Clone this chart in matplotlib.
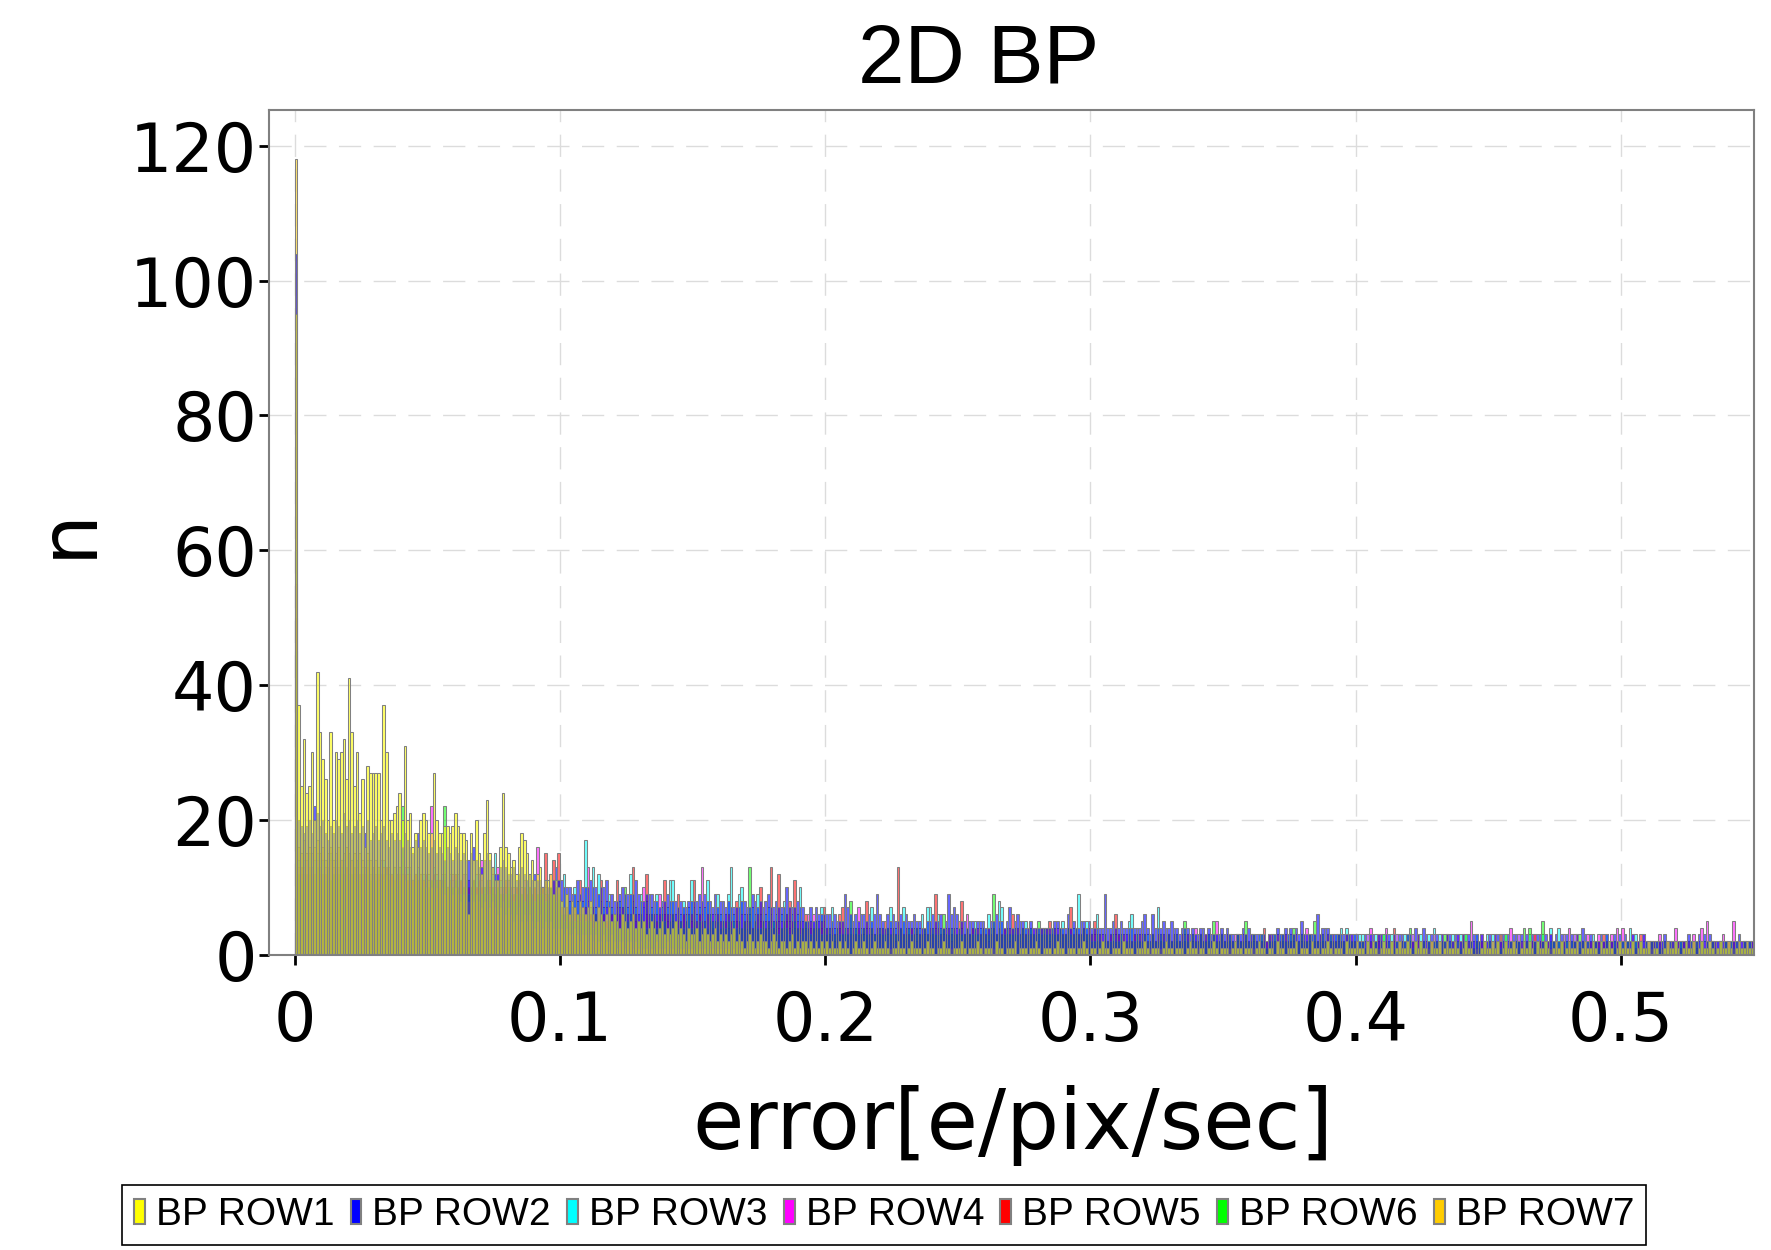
import matplotlib
matplotlib.use('Agg')
import matplotlib.pyplot as plt
from matplotlib.patches import Patch
import numpy as np

# histogram bin width [e/pix/sec]
bin_width = 0.001

series_names = ['BP ROW1', 'BP ROW2', 'BP ROW3', 'BP ROW4', 'BP ROW5', 'BP ROW6', 'BP ROW7']

# counts per bin, bins start at 0 and step by bin_width
row1 = [
    95, 37, 25, 32, 24, 25, 30, 20, 42, 33, 29, 26, 20, 33, 20, 30, 29, 30, 32, 26, 41, 33, 25, 30, 21,
    26, 16, 28, 27, 27, 27, 27, 20, 37, 30, 20, 20, 21, 22, 24, 20, 31, 20, 21, 16, 18, 16, 20, 21, 20,
    18, 18, 27, 20, 18, 18, 19, 19, 18, 19, 21, 19, 18, 18, 17, 6, 18, 14, 20, 15, 12, 18, 23, 15, 13,
    11, 11, 16, 24, 16, 15, 13, 14, 12, 16, 18, 17, 15, 12, 14, 11, 12, 13, 10, 11, 11, 12, 9, 11, 10,
    8, 7, 9, 6, 8, 7, 6, 8, 7, 6, 7, 8, 6, 5, 7, 6, 5, 6, 7, 5, 6, 5, 4, 6, 5,
    4, 5, 6, 4, 5, 4, 5, 3, 4, 5, 4, 3, 4, 5, 3, 4, 3, 4, 5, 3, 4, 3, 2, 4, 3,
    3, 4, 2, 3, 4, 3, 2, 3, 4, 2, 3, 2, 3, 2, 3, 4, 2, 3, 2, 1, 2, 3, 2, 1, 2,
    3, 2, 2, 1, 2, 3, 2, 1, 2, 2, 1, 2, 3, 1, 2, 1, 2, 2, 1, 2, 1, 2, 1, 2, 1,
    2, 1, 2, 1, 1, 2, 1, 2, 1, 0, 1, 2, 1, 1, 2, 1, 0, 1, 2, 1, 1, 1, 2, 1, 0,
    1, 1, 2, 1, 1, 0, 1, 2, 1, 1, 1, 0, 1, 2, 1, 1, 0, 1, 1, 2, 1, 1, 0, 1, 1,
    1, 2, 1, 0, 1, 1, 1, 2, 1, 0, 1, 1, 1, 0, 2, 1, 1, 0, 1, 1, 1, 2, 0, 1, 1,
    1, 0, 1, 1, 2, 1, 0, 1, 1, 1, 0, 1, 2, 1, 1, 0, 1, 1, 1, 0, 1, 1, 2, 1, 0,
    1, 1, 0, 1, 2, 1, 1, 0, 1, 1, 1, 0, 2, 1, 1, 1, 0, 1, 1, 1, 2, 1, 0, 1, 1,
    1, 0, 1, 2, 1, 1, 0, 1, 1, 1, 0, 1, 2, 1, 1, 0, 1, 1, 0, 1, 1, 2, 1, 0, 1,
    1, 1, 0, 1, 2, 1, 1, 0, 1, 1, 1, 0, 1, 2, 1, 1, 0, 1, 1, 0, 2, 1, 1, 0, 1,
    1, 1, 2, 0, 1, 1, 1, 0, 2, 1, 1, 0, 1, 1, 2, 1, 0, 1, 1, 1, 0, 2, 1, 1, 1,
    2, 1, 1, 0, 2, 1, 2, 1, 0, 1, 2, 1, 1, 2, 0, 1, 2, 1, 1, 2, 1, 0, 2, 1, 2,
    1, 1, 0, 2, 1, 1, 2, 0, 1, 2, 1, 1, 2, 1, 0, 1, 2, 1, 1, 0, 0, 0, 1, 2, 1,
    1, 2, 1, 2, 0, 1, 2, 1, 1, 2, 1, 0, 1, 2, 1, 2, 1, 0, 2, 1, 1, 2, 1, 0, 1,
    2, 1, 2, 0, 1, 2, 1, 1, 2, 0, 1, 2, 1, 1, 2, 1, 0, 2, 1, 1, 2, 1, 0, 1, 2,
    1, 2, 1, 1, 2, 0, 1, 2, 1, 1, 2, 0, 1, 1, 0, 0, 1, 2, 1, 1, 2, 1, 0, 1, 2,
    1, 1, 2, 0, 1, 2, 1, 1, 2, 1, 0, 1, 2, 1, 1, 2, 1, 0, 1, 2, 1, 1, 2, 1, 1,
]
row2 = [
    104, 20, 19, 18, 19, 20, 18, 22, 21, 19, 20, 18, 17, 19, 18, 20, 19, 18, 21, 19, 20, 18, 19, 20, 18,
    19, 18, 20, 17, 18, 19, 17, 18, 19, 17, 16, 18, 17, 18, 17, 16, 18, 17, 16, 15, 17, 18, 16, 17, 16,
    15, 16, 17, 15, 16, 15, 14, 16, 15, 14, 16, 15, 14, 15, 14, 14, 15, 16, 14, 13, 13, 14, 15, 14, 13,
    12, 12, 13, 14, 13, 12, 12, 13, 11, 12, 13, 12, 11, 12, 11, 12, 11, 11, 10, 11, 10, 10, 11, 13, 11,
    11, 10, 10, 10, 9, 9, 11, 9, 10, 10, 10, 11, 10, 10, 9, 10, 10, 11, 8, 9, 8, 8, 9, 10, 9,
    9, 9, 9, 11, 9, 8, 8, 9, 9, 9, 8, 8, 7, 8, 8, 9, 8, 8, 8, 7, 8, 7, 7, 8, 8,
    8, 8, 9, 8, 9, 8, 8, 7, 9, 7, 8, 8, 7, 8, 7, 7, 7, 7, 8, 8, 7, 7, 9, 8, 7,
    8, 7, 8, 9, 7, 7, 8, 7, 7, 7, 10, 7, 7, 7, 8, 7, 7, 5, 5, 7, 5, 7, 6, 6, 6,
    6, 6, 5, 6, 5, 5, 5, 9, 7, 6, 5, 6, 5, 6, 6, 5, 6, 5, 6, 9, 6, 5, 4, 6, 5,
    6, 5, 5, 6, 5, 6, 5, 5, 6, 5, 5, 4, 4, 5, 5, 6, 5, 5, 6, 4, 5, 9, 6, 7, 6,
    4, 5, 5, 4, 5, 5, 4, 5, 5, 5, 4, 4, 5, 5, 6, 5, 5, 4, 5, 7, 4, 5, 6, 5, 5,
    4, 4, 5, 4, 4, 4, 4, 4, 4, 4, 4, 5, 5, 4, 4, 4, 6, 4, 5, 4, 4, 5, 5, 4, 5,
    4, 4, 4, 4, 4, 9, 4, 4, 5, 4, 4, 5, 4, 4, 4, 4, 4, 4, 4, 5, 6, 4, 3, 6, 4,
    4, 4, 5, 4, 4, 5, 4, 4, 3, 4, 4, 4, 3, 4, 3, 3, 4, 4, 3, 4, 3, 3, 3, 3, 4,
    3, 4, 3, 3, 2, 3, 3, 4, 3, 4, 3, 3, 3, 3, 3, 3, 2, 3, 3, 3, 4, 3, 3, 4, 3,
    4, 3, 4, 3, 5, 3, 3, 3, 3, 3, 6, 3, 4, 4, 4, 3, 3, 3, 3, 3, 3, 3, 3, 3, 3,
    3, 2, 2, 3, 2, 3, 3, 2, 3, 3, 2, 3, 3, 2, 3, 2, 3, 3, 2, 3, 3, 2, 4, 3, 2,
    4, 3, 2, 3, 2, 3, 2, 3, 2, 3, 3, 2, 3, 3, 2, 3, 2, 3, 2, 3, 3, 2, 3, 2, 2,
    3, 2, 3, 3, 2, 3, 2, 3, 2, 3, 3, 2, 3, 2, 3, 2, 3, 2, 3, 3, 2, 3, 2, 3, 2,
    3, 2, 3, 2, 3, 2, 3, 2, 3, 2, 4, 3, 2, 3, 2, 2, 2, 3, 2, 3, 2, 2, 3, 2, 3,
    2, 3, 2, 2, 3, 2, 2, 2, 3, 2, 2, 2, 2, 2, 2, 2, 3, 2, 2, 2, 2, 2, 2, 2, 2,
    3, 2, 2, 2, 3, 2, 3, 2, 3, 2, 2, 2, 2, 2, 2, 2, 2, 2, 2, 3, 2, 2, 2, 2, 2,
]
row3 = [
    60, 14, 13, 14, 12, 15, 13, 14, 15, 13, 14, 12, 13, 15, 12, 14, 13, 12, 14, 13, 15, 12, 13, 14, 12,
    13, 12, 14, 12, 13, 12, 13, 12, 14, 13, 12, 11, 13, 12, 13, 12, 11, 13, 12, 11, 12, 13, 11, 12, 11,
    12, 11, 13, 12, 11, 12, 11, 10, 12, 11, 10, 12, 11, 10, 12, 11, 10, 11, 12, 10, 11, 10, 11, 10, 12,
    15, 10, 11, 9, 10, 11, 10, 9, 10, 11, 9, 10, 11, 10, 9, 10, 11, 9, 10, 10, 9, 10, 9, 10, 11,
    8, 12, 7, 8, 7, 10, 8, 7, 8, 17, 8, 7, 13, 7, 12, 8, 7, 8, 9, 7, 6, 7, 8, 7, 6,
    7, 12, 8, 7, 6, 9, 7, 8, 6, 7, 6, 9, 6, 7, 6, 7, 11, 11, 6, 7, 6, 8, 6, 7, 11,
    7, 6, 7, 6, 7, 11, 6, 5, 6, 9, 6, 5, 6, 9, 13, 6, 5, 9, 10, 6, 5, 6, 7, 6, 9,
    6, 5, 6, 7, 6, 5, 6, 5, 6, 8, 6, 5, 6, 5, 6, 10, 5, 4, 5, 4, 5, 4, 5, 7, 5,
    4, 3, 7, 4, 3, 4, 3, 4, 3, 4, 3, 4, 3, 4, 3, 4, 3, 7, 3, 4, 3, 4, 3, 4, 7,
    3, 4, 3, 4, 7, 3, 4, 3, 4, 3, 4, 6, 3, 7, 7, 3, 4, 6, 3, 4, 3, 4, 3, 4, 3,
    3, 4, 3, 4, 3, 4, 5, 3, 4, 3, 4, 6, 3, 4, 3, 8, 7, 3, 4, 3, 4, 3, 4, 3, 4,
    5, 3, 4, 3, 4, 3, 4, 3, 4, 3, 3, 4, 3, 4, 5, 3, 4, 3, 4, 3, 9, 3, 4, 5, 3,
    3, 2, 6, 3, 2, 3, 2, 3, 2, 3, 2, 3, 2, 3, 5, 6, 2, 3, 2, 3, 2, 3, 2, 3, 2,
    7, 2, 3, 2, 3, 2, 3, 2, 2, 3, 2, 3, 2, 2, 3, 2, 3, 2, 2, 3, 2, 2, 3, 2, 3,
    2, 3, 2, 2, 2, 3, 2, 3, 2, 2, 3, 2, 2, 3, 2, 2, 1, 2, 3, 2, 2, 3, 2, 2, 3,
    2, 2, 3, 2, 2, 3, 2, 2, 3, 2, 2, 3, 2, 2, 3, 2, 2, 3, 2, 4, 2, 4, 2, 2, 3,
    2, 3, 3, 2, 3, 2, 1, 3, 2, 1, 3, 2, 2, 3, 2, 3, 2, 1, 3, 2, 2, 3, 2, 1, 3,
    2, 1, 3, 2, 4, 2, 3, 2, 1, 3, 2, 3, 2, 1, 3, 2, 3, 2, 1, 2, 3, 2, 2, 1, 3,
    2, 3, 2, 1, 3, 2, 3, 2, 1, 2, 2, 3, 1, 2, 2, 3, 2, 1, 2, 2, 3, 2, 1, 4, 2,
    2, 4, 1, 3, 2, 1, 2, 3, 2, 1, 2, 2, 1, 2, 3, 2, 1, 2, 2, 3, 1, 2, 2, 1, 2,
    2, 1, 2, 4, 2, 3, 1, 2, 2, 1, 2, 1, 2, 1, 2, 2, 1, 2, 1, 2, 2, 1, 2, 2, 1,
    2, 1, 2, 1, 2, 2, 1, 2, 1, 2, 1, 2, 2, 1, 2, 1, 2, 2, 1, 2, 1, 2, 1, 2, 1,
]
row4 = [
    55, 13, 12, 13, 14, 12, 13, 12, 14, 13, 12, 13, 12, 14, 13, 12, 13, 14, 12, 13, 12, 14, 12, 13, 12,
    12, 13, 11, 12, 13, 12, 11, 12, 13, 12, 11, 12, 11, 12, 11, 12, 13, 11, 12, 11, 12, 11, 12, 11, 12,
    11, 22, 12, 11, 10, 11, 12, 10, 11, 12, 11, 10, 11, 12, 10, 11, 10, 11, 10, 12, 14, 10, 11, 10, 9,
    10, 13, 10, 9, 10, 11, 9, 10, 10, 9, 10, 11, 9, 10, 9, 10, 16, 9, 10, 9, 10, 12, 9, 10, 9,
    6, 7, 6, 5, 7, 6, 5, 6, 7, 6, 13, 6, 5, 6, 7, 5, 6, 7, 5, 6, 5, 6, 7, 5, 6,
    5, 6, 7, 5, 6, 5, 10, 6, 5, 6, 5, 6, 9, 5, 6, 5, 6, 5, 6, 5, 4, 6, 5, 4, 5,
    5, 4, 6, 13, 5, 4, 5, 6, 4, 5, 4, 5, 6, 4, 5, 4, 5, 4, 6, 5, 4, 5, 4, 5, 4,
    5, 4, 5, 4, 5, 4, 5, 4, 5, 4, 5, 4, 5, 4, 5, 4, 5, 4, 6, 4, 6, 4, 5, 4, 5,
    3, 4, 3, 2, 3, 4, 3, 2, 3, 4, 3, 3, 7, 3, 2, 3, 4, 3, 2, 3, 4, 3, 2, 3, 4,
    3, 2, 3, 4, 3, 2, 3, 4, 3, 2, 3, 4, 3, 2, 3, 4, 3, 2, 3, 3, 4, 3, 2, 3, 4,
    3, 2, 3, 6, 3, 4, 3, 2, 3, 4, 3, 2, 3, 4, 3, 2, 3, 4, 3, 2, 3, 4, 3, 2, 3,
    3, 2, 3, 4, 3, 2, 3, 4, 3, 2, 3, 3, 4, 2, 3, 3, 2, 4, 3, 2, 3, 3, 4, 2, 3,
    2, 3, 2, 2, 3, 2, 2, 3, 2, 2, 3, 2, 2, 3, 2, 2, 3, 2, 2, 3, 2, 2, 1, 3, 2,
    2, 3, 2, 2, 3, 2, 2, 3, 2, 2, 3, 2, 1, 2, 4, 2, 3, 2, 2, 3, 2, 1, 5, 2, 3,
    2, 2, 3, 2, 3, 2, 2, 3, 2, 2, 3, 2, 2, 2, 2, 2, 2, 2, 3, 2, 2, 2, 3, 2, 2,
    2, 2, 3, 2, 2, 3, 4, 2, 2, 3, 2, 2, 3, 2, 2, 2, 3, 2, 2, 2, 2, 2, 2, 3, 2,
    1, 2, 1, 2, 3, 4, 2, 1, 2, 3, 1, 4, 2, 1, 2, 3, 1, 2, 2, 1, 2, 3, 1, 2, 1,
    2, 2, 1, 2, 3, 1, 2, 3, 1, 2, 2, 1, 2, 3, 1, 2, 2, 1, 5, 2, 1, 2, 3, 1, 2,
    1, 2, 3, 1, 2, 2, 1, 2, 4, 1, 2, 3, 1, 2, 2, 1, 2, 3, 1, 2, 2, 1, 2, 3, 1,
    2, 1, 2, 3, 1, 4, 2, 3, 1, 2, 2, 1, 3, 2, 1, 2, 3, 1, 2, 2, 1, 3, 2, 4, 2,
    4, 2, 1, 2, 3, 1, 2, 2, 3, 1, 2, 2, 1, 2, 3, 2, 1, 2, 2, 1, 4, 2, 1, 2, 2,
    1, 2, 3, 1, 2, 4, 2, 5, 1, 2, 1, 2, 2, 3, 1, 2, 1, 5, 2, 1, 2, 2, 1, 2, 2,
]
row5 = [
    50, 12, 13, 11, 12, 13, 12, 11, 13, 12, 11, 12, 13, 11, 12, 13, 12, 11, 12, 13, 11, 12, 13, 11, 12,
    11, 12, 13, 11, 12, 11, 12, 11, 12, 13, 11, 12, 11, 10, 12, 11, 12, 11, 10, 11, 12, 11, 10, 11, 12,
    10, 11, 12, 10, 11, 10, 11, 10, 11, 10, 12, 10, 11, 10, 11, 10, 9, 11, 10, 11, 10, 9, 10, 11, 10,
    9, 10, 9, 10, 11, 9, 10, 9, 10, 11, 9, 10, 9, 10, 9, 10, 9, 10, 10, 15, 9, 10, 14, 10, 15,
    7, 6, 7, 6, 5, 7, 6, 11, 6, 7, 5, 6, 7, 6, 5, 11, 6, 5, 7, 6, 5, 11, 6, 7, 5,
    6, 5, 13, 6, 5, 6, 5, 12, 6, 5, 6, 5, 6, 5, 11, 6, 5, 6, 5, 9, 5, 6, 5, 4, 6,
    11, 5, 6, 5, 4, 6, 5, 4, 5, 6, 5, 4, 5, 6, 5, 4, 8, 5, 4, 5, 6, 5, 4, 5, 6,
    10, 5, 4, 5, 13, 4, 5, 12, 4, 5, 6, 8, 5, 11, 4, 5, 4, 6, 4, 5, 4, 5, 4, 5, 7,
    4, 3, 4, 3, 4, 6, 7, 3, 4, 3, 4, 3, 4, 3, 4, 8, 3, 4, 3, 4, 3, 4, 5, 4, 3,
    4, 3, 13, 4, 3, 4, 3, 4, 3, 4, 3, 3, 4, 3, 4, 3, 9, 4, 3, 4, 3, 4, 3, 4, 3,
    5, 8, 3, 4, 3, 4, 3, 4, 3, 4, 3, 4, 3, 4, 3, 4, 3, 4, 3, 4, 6, 3, 4, 3, 4,
    3, 4, 3, 3, 4, 3, 4, 3, 4, 5, 3, 4, 3, 4, 3, 3, 4, 7, 3, 4, 3, 3, 4, 3, 4,
    3, 5, 2, 3, 2, 3, 2, 3, 2, 6, 3, 2, 3, 2, 3, 2, 3, 2, 3, 2, 3, 2, 2, 3, 2,
    3, 2, 3, 2, 3, 2, 3, 2, 2, 3, 2, 3, 2, 3, 2, 2, 3, 2, 3, 2, 2, 3, 2, 2, 3,
    2, 3, 2, 2, 2, 3, 2, 2, 3, 2, 2, 3, 2, 2, 2, 4, 2, 3, 2, 2, 3, 2, 2, 3, 2,
    2, 3, 2, 2, 3, 2, 2, 3, 2, 2, 2, 3, 2, 2, 3, 2, 2, 2, 3, 2, 2, 3, 2, 2, 2,
    2, 1, 2, 1, 2, 2, 1, 2, 3, 2, 1, 2, 1, 2, 4, 1, 2, 2, 1, 2, 1, 2, 2, 3, 1,
    2, 1, 2, 2, 1, 2, 1, 2, 2, 3, 1, 2, 2, 1, 2, 3, 1, 2, 2, 1, 2, 1, 2, 2, 1,
    2, 1, 2, 2, 3, 1, 2, 1, 2, 2, 1, 2, 2, 1, 2, 1, 2, 3, 1, 2, 2, 1, 2, 1, 2,
    2, 1, 2, 2, 1, 2, 1, 2, 3, 1, 2, 2, 1, 2, 1, 2, 2, 1, 3, 2, 1, 2, 1, 2, 2,
    1, 2, 2, 1, 2, 1, 2, 3, 1, 2, 1, 2, 2, 1, 2, 1, 2, 2, 1, 2, 1, 2, 1, 2, 1,
    2, 1, 2, 2, 1, 2, 1, 2, 1, 2, 2, 1, 2, 1, 2, 2, 1, 2, 1, 2, 1, 2, 2, 1, 2,
]
row6 = [
    45, 12, 11, 12, 11, 12, 11, 12, 13, 11, 12, 11, 12, 11, 12, 11, 12, 13, 11, 12, 11, 12, 11, 12, 11,
    12, 11, 12, 11, 12, 11, 10, 12, 11, 12, 11, 10, 11, 12, 11, 22, 11, 10, 11, 10, 11, 10, 11, 10, 11,
    10, 11, 10, 11, 10, 11, 22, 10, 11, 10, 11, 10, 9, 10, 11, 9, 10, 11, 9, 10, 9, 10, 11, 9, 10,
    9, 10, 9, 8, 9, 10, 9, 8, 9, 10, 9, 8, 9, 10, 9, 8, 9, 10, 9, 8, 9, 10, 9, 8, 9,
    6, 5, 6, 5, 6, 5, 6, 5, 6, 5, 6, 5, 4, 6, 5, 6, 5, 4, 6, 5, 6, 5, 4, 5, 10,
    5, 6, 5, 4, 5, 6, 5, 4, 5, 6, 5, 4, 5, 6, 5, 4, 5, 6, 5, 4, 5, 4, 5, 6, 4,
    5, 4, 5, 4, 5, 4, 6, 5, 4, 5, 4, 5, 4, 5, 4, 5, 4, 5, 4, 5, 4, 13, 4, 5, 4,
    4, 5, 4, 5, 4, 5, 4, 3, 4, 5, 4, 3, 4, 5, 4, 3, 4, 5, 4, 3, 4, 5, 4, 3, 4,
    3, 4, 3, 3, 4, 3, 3, 4, 3, 8, 3, 4, 3, 3, 4, 3, 3, 4, 3, 3, 4, 3, 3, 4, 3,
    4, 3, 3, 4, 3, 3, 4, 3, 3, 4, 3, 3, 4, 3, 3, 4, 3, 3, 4, 6, 3, 3, 4, 3, 3,
    4, 3, 3, 4, 3, 3, 4, 3, 3, 4, 3, 3, 4, 9, 3, 4, 3, 3, 4, 3, 3, 4, 3, 3, 4,
    3, 3, 4, 3, 3, 5, 3, 4, 3, 3, 4, 3, 3, 4, 3, 3, 4, 3, 3, 4, 3, 3, 4, 3, 3,
    2, 2, 3, 2, 2, 3, 2, 2, 3, 2, 2, 3, 2, 2, 3, 2, 2, 3, 2, 2, 3, 2, 2, 3, 2,
    2, 3, 2, 2, 3, 2, 2, 3, 2, 2, 5, 2, 2, 3, 2, 2, 3, 2, 2, 3, 2, 5, 2, 2, 3,
    2, 2, 3, 2, 2, 3, 2, 2, 5, 2, 2, 3, 2, 2, 3, 2, 1, 2, 2, 3, 2, 2, 3, 2, 2,
    3, 4, 2, 2, 3, 2, 2, 3, 2, 5, 2, 2, 3, 2, 2, 3, 2, 2, 3, 2, 2, 2, 3, 2, 2,
    1, 2, 2, 1, 2, 1, 2, 2, 1, 2, 3, 1, 2, 2, 1, 2, 1, 2, 2, 3, 4, 1, 2, 1, 2,
    2, 1, 2, 1, 2, 2, 1, 2, 3, 1, 2, 1, 2, 2, 1, 2, 3, 1, 2, 1, 2, 2, 1, 2, 1,
    2, 1, 2, 2, 1, 2, 3, 1, 2, 1, 2, 2, 1, 4, 2, 4, 1, 2, 2, 1, 5, 2, 1, 2, 2,
    1, 2, 2, 1, 2, 1, 2, 2, 1, 3, 2, 1, 2, 1, 2, 2, 1, 2, 1, 2, 2, 1, 2, 1, 2,
    2, 1, 2, 1, 2, 2, 1, 2, 1, 2, 1, 2, 1, 2, 1, 1, 2, 1, 2, 1, 2, 1, 2, 1, 2,
    1, 2, 1, 2, 1, 2, 1, 2, 1, 2, 1, 1, 2, 1, 2, 1, 2, 1, 2, 1, 1, 2, 1, 2, 1,
]
row7 = [
    118, 16, 15, 17, 15, 16, 15, 16, 17, 15, 16, 14, 15, 16, 14, 15, 16, 14, 15, 16, 15, 14, 15, 14, 15,
    14, 13, 15, 14, 13, 14, 13, 14, 13, 12, 13, 12, 13, 12, 13, 12, 11, 12, 13, 11, 12, 11, 12, 11, 10,
    11, 10, 11, 10, 11, 10, 9, 10, 11, 9, 10, 9, 8, 9, 10, 8, 9, 8, 9, 8, 7, 8, 9, 7, 8,
    7, 6, 7, 8, 6, 7, 6, 5, 6, 7, 5, 6, 5, 6, 5, 4, 5, 6, 4, 5, 4, 5, 4, 3, 4,
    4, 3, 4, 3, 3, 4, 3, 2, 3, 3, 2, 3, 2, 3, 2, 2, 3, 2, 2, 3, 2, 1, 2, 2, 1,
    2, 2, 1, 2, 1, 2, 1, 1, 2, 1, 1, 2, 1, 1, 1, 2, 1, 1, 0, 1, 1, 1, 0, 1, 1,
    1, 0, 1, 1, 1, 0, 1, 1, 0, 1, 1, 0, 1, 1, 0, 1, 0, 1, 1, 0, 1, 0, 1, 0, 1,
    1, 0, 1, 0, 1, 0, 1, 1, 0, 1, 0, 1, 0, 1, 0, 1, 0, 1, 1, 0, 1, 0, 1, 0, 1,
    1, 0, 1, 0, 0, 1, 0, 1, 0, 0, 1, 0, 1, 0, 0, 1, 1, 0, 0, 1, 0, 0, 1, 0, 1,
    0, 0, 1, 0, 1, 0, 0, 1, 0, 0, 1, 0, 0, 1, 0, 1, 0, 0, 1, 0, 0, 0, 1, 0, 1,
    0, 1, 0, 0, 1, 0, 0, 1, 0, 1, 0, 0, 0, 1, 0, 0, 1, 0, 1, 0, 0, 1, 0, 0, 1,
    0, 0, 1, 0, 0, 1, 0, 0, 0, 1, 0, 1, 0, 0, 1, 0, 0, 1, 0, 0, 0, 1, 0, 1, 0,
    1, 0, 0, 1, 0, 0, 1, 0, 0, 0, 1, 0, 0, 1, 0, 1, 0, 0, 0, 1, 0, 0, 1, 0, 0,
    0, 1, 0, 0, 0, 1, 0, 0, 1, 0, 0, 1, 0, 0, 0, 1, 0, 1, 0, 0, 1, 0, 0, 0, 1,
    0, 0, 1, 0, 1, 0, 0, 0, 1, 0, 0, 1, 0, 1, 0, 0, 0, 1, 0, 0, 1, 0, 1, 0, 0,
    1, 0, 0, 0, 1, 0, 1, 0, 0, 1, 0, 0, 0, 1, 0, 0, 1, 0, 0, 1, 0, 1, 0, 0, 0,
    0, 1, 0, 0, 1, 0, 0, 0, 1, 0, 1, 0, 0, 1, 0, 0, 0, 1, 0, 0, 1, 0, 0, 1, 0,
    0, 0, 1, 0, 0, 0, 1, 0, 1, 0, 0, 1, 0, 0, 0, 1, 0, 0, 1, 0, 1, 0, 0, 0, 1,
    1, 0, 0, 1, 0, 0, 0, 1, 0, 0, 1, 0, 1, 0, 0, 0, 1, 0, 0, 1, 0, 0, 0, 1, 0,
    0, 1, 0, 0, 0, 1, 0, 0, 1, 0, 0, 0, 1, 0, 1, 0, 0, 1, 0, 0, 0, 1, 0, 0, 1,
    0, 0, 1, 0, 1, 0, 0, 0, 1, 0, 0, 1, 0, 0, 0, 1, 0, 1, 0, 0, 1, 0, 0, 0, 1,
    1, 0, 0, 0, 1, 0, 0, 1, 0, 0, 1, 0, 0, 1, 0, 0, 0, 1, 0, 1, 0, 0, 1, 0, 0,
]

x_ticks = [0, 0.1, 0.2, 0.3, 0.4, 0.5]
x_ticklabels = ['0', '0.1', '0.2', '0.3', '0.4', '0.5']
y_ticks = [0, 20, 40, 60, 80, 100, 120]
y_ticklabels = ['0', '20', '40', '60', '80', '100', '120']

rows = [row1, row2, row3, row4, row5, row6, row7]
colors = [(1, 1, 0), (0, 0, 1), (0, 1, 1), (1, 0, 1), (1, 0, 0), (0, 1, 0), (1, 0.8, 0)]
fill_alpha = [0.6, 0.6, 0.55, 0.55, 0.55, 0.55, 0.55]
# cyan, magenta, red, green, orange underneath; blue, then yellow on top
draw_order = [2, 3, 4, 5, 6, 1, 0]

W, H = 1771, 1250
fig = plt.figure(figsize=(W / 100, H / 100), dpi=100)
ax = fig.add_axes([268.8 / W, 1 - 954.5 / H, (1754 - 268.8) / W, (954.5 - 109.6) / H])

for i in draw_order:
    vals = rows[i]
    left = np.arange(len(vals)) * bin_width
    ax.bar(left, vals, width=bin_width, align='edge',
           facecolor=colors[i] + (fill_alpha[i],), edgecolor='#808080', linewidth=0.75)

ax.set_xlim(-0.0098, 0.5502)
ax.set_ylim(0, 125.4)

ax.set_xticks(x_ticks)
ax.set_xticklabels(x_ticklabels)
ax.set_yticks(y_ticks)
ax.set_yticklabels(y_ticklabels)
ax.tick_params(axis='both', direction='out', length=7, width=2, color='black',
               labelsize=48, top=False, right=False)
ax.tick_params(axis='x', pad=18)
ax.tick_params(axis='y', pad=1.5)
for lab in ax.get_xticklabels() + ax.get_yticklabels():
    lab.set_family('DejaVu Sans')

for sp in ax.spines.values():
    sp.set_color('#808080')
    sp.set_linewidth(1.5)

ax.set_axisbelow(True)
ax.grid(True, color='#dcdcdc', linestyle=(0, (16, 9)), linewidth=1)

fig.text(978.7 / W, 1 - 82.5 / H, '2D BP', ha='center', va='baseline',
         fontsize=60, family=['Liberation Sans', 'DejaVu Sans'])
fig.text(1013 / W, 1 - 1126 / H, 'error[e/pix/sec]', ha='center', va='center',
         fontsize=60, family='DejaVu Sans')
fig.text(69 / W, 1 - 533 / H, 'n', ha='center', va='center', rotation=90,
         fontsize=58, family='DejaVu Sans')

handles = [Patch(facecolor=c, edgecolor='#808080', linewidth=1.5) for c in colors]
leg = fig.legend(handles, series_names, loc='center', bbox_to_anchor=(884 / W, 1 - 1215 / H),
                 ncol=7, frameon=True, fancybox=False, framealpha=1,
                 handlelength=0.28, handleheight=0.6, handletextpad=0.28,
                 columnspacing=0.42, borderpad=0.3, borderaxespad=0,
                 prop={'family': 'Liberation Sans', 'size': 28})
leg.get_frame().set_edgecolor('black')
leg.get_frame().set_linewidth(1.2)

fig.savefig('out.png', dpi=100)
